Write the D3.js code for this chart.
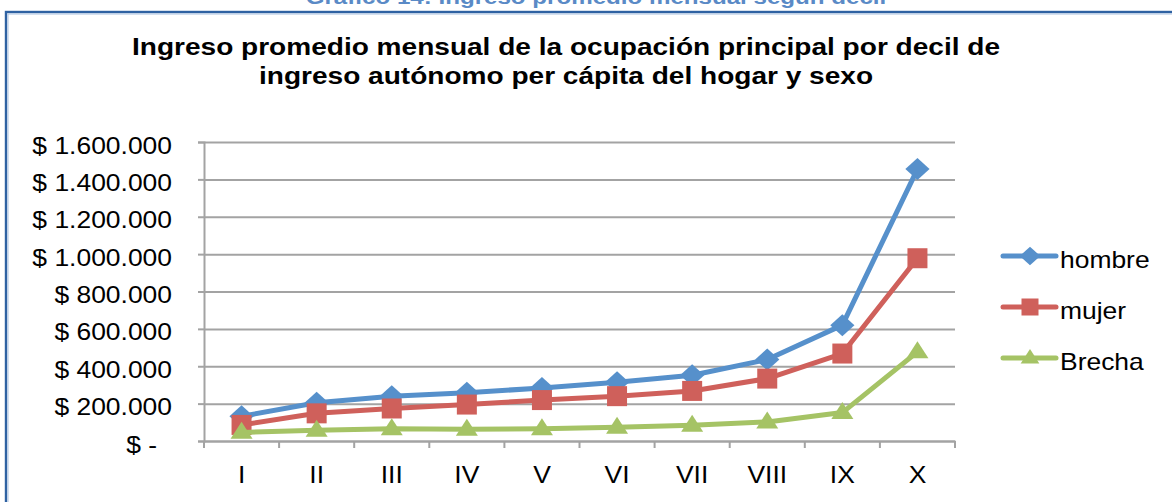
<!DOCTYPE html>
<html>
<head>
<meta charset="utf-8">
<script src="https://cdn.jsdelivr.net/npm/d3@7"></script>
<style>
  html, body { margin: 0; padding: 0; background: #fff; }
  svg { display: block; font-family: Arial, "Liberation Sans", sans-serif; }
</style>
</head>
<body>
<svg id="chart" width="1172" height="502"></svg>
<script>
// ---- data ----
const categories = ["I", "II", "III", "IV", "V", "VI", "VII", "VIII", "IX", "X"];
const hombre = [132000, 205000, 240000, 258000, 284000, 314000, 352000, 436000, 620000, 1455000];
const mujer  = [ 86000, 148000, 174000, 195000, 219000, 240000, 268000, 334000, 468000,  978000];
const brecha = [ 46000,  57000,  66000,  63000,  65000,  74000,  84000, 102000, 152000,  477000];
const yTicks = [0, 200000, 400000, 600000, 800000, 1000000, 1200000, 1400000, 1600000];
const seriesNames = ["hombre", "mujer", "Brecha"];
const headerText = "Gráfico 14: Ingreso promedio mensual según decil";
const titleLines = ["Ingreso promedio mensual de la ocupación principal por decil de",
                    "ingreso autónomo per cápita del hogar y sexo"];

// ---- setup ----
const SX = 1.15; // horizontal stretch of the original picture
const colors = ["#5690cb", "#cf605b", "#a5c365"];
const svg = d3.select("#chart");

// outer frame
svg.append("rect").attr("x", 6).attr("y", 12).attr("width", 1200).attr("height", 520)
  .attr("fill", "none").attr("stroke", "#2f62a2").attr("stroke-width", 2.4);
svg.append("rect").attr("x", 8).attr("y", 14).attr("width", 1200).attr("height", 520)
  .attr("fill", "none").attr("stroke", "#a9c1e0").attr("stroke-width", 1);

// header (cut off at top, as in the original)
svg.append("text").attr("transform", `translate(596,4) scale(${SX},1)`)
  .attr("text-anchor", "middle").attr("font-size", 21).attr("font-weight", "bold")
  .attr("fill", "#5a8ac6").text(headerText);

// title
titleLines.forEach((t, i) => {
  svg.append("text").attr("transform", `translate(566,${55 + i * 29}) scale(${SX},1)`)
    .attr("text-anchor", "middle").attr("font-size", 24.4).attr("font-weight", "bold")
    .attr("fill", "#000").text(t);
});

const x = d3.scaleBand().domain(categories).range([204, 955]);
const y = d3.scaleLinear().domain([0, 1600000]).range([441, 142]);

const fmt = d => d === 0 ? "$ -" : "$ " + d3.format(",")(d).replace(/,/g, ".");

// gridlines
svg.append("g").attr("transform", "translate(204,0)")
  .call(d3.axisLeft(y).tickValues(yTicks).tickSize(-751).tickFormat(""))
  .call(g => g.select(".domain").remove())
  .call(g => g.selectAll("line").attr("stroke", "#a3a3a3").attr("stroke-width", 2));

// y axis
svg.append("g").attr("transform", "translate(204,0)")
  .call(d3.axisLeft(y).tickValues(yTicks).tickSize(6).tickFormat(fmt))
  .call(g => g.select(".domain").attr("stroke", "#a3a3a3").attr("stroke-width", 2))
  .call(g => g.selectAll("line").attr("stroke", "#a3a3a3").attr("stroke-width", 2))
  .call(g => g.selectAll("text")
    .attr("font-size", 23).attr("font-family", "Arial, 'Liberation Sans', sans-serif")
    .attr("fill", "#000").attr("dy", "0.48em")
    .attr("x", d => d === 0 ? -47 / SX : -32 / SX)
    .attr("transform", `scale(${SX},1)`));

// x axis
const xBounds = categories.map(c => x(c)).concat([955]);
svg.append("g").attr("transform", "translate(0,441)")
  .call(d3.axisBottom(x).tickSize(0).tickFormat(d => d))
  .call(g => g.select(".domain").attr("stroke", "#a3a3a3").attr("stroke-width", 2))
  .call(g => g.selectAll("text")
    .attr("font-size", 23).attr("font-family", "Arial, 'Liberation Sans', sans-serif")
    .attr("fill", "#000").attr("y", 42).attr("dy", 0)
    .attr("transform", `scale(${SX},1)`)
    .attr("x", 0));
svg.append("g").selectAll("line").data(xBounds).join("line")
  .attr("x1", d => d).attr("x2", d => d).attr("y1", 441).attr("y2", 448)
  .attr("stroke", "#a3a3a3").attr("stroke-width", 2);

// series
const series = [hombre, mujer, brecha];
const cx = c => x(c) + x.bandwidth() / 2;
const line = d3.line().x((d, i) => cx(categories[i])).y(d => y(d));

function marker(sel, k, size) {
  if (k === 0) {
    const s = size * 0.55;
    sel.append("path").attr("d", `M0,${-s} L${s * 1.1},0 L0,${s} L${-s * 1.1},0 Z`);
  } else if (k === 1) {
    const s = size / 2;
    sel.append("rect").attr("x", -s).attr("y", -s).attr("width", 2 * s).attr("height", 2 * s);
  } else {
    const w = size * 0.55, h = size * 0.85;
    sel.append("path").attr("d", `M0,${-h * 0.62} L${w},${h * 0.38} L${-w},${h * 0.38} Z`);
  }
}

series.forEach((vals, k) => {
  const g = svg.append("g").attr("fill", colors[k]);
  g.append("path").datum(vals).attr("d", line).attr("fill", "none")
    .attr("stroke", colors[k]).attr("stroke-width", 5).attr("stroke-linejoin", "round");
  vals.forEach((v, i) => {
    const m = g.append("g").attr("transform", `translate(${cx(categories[i])},${y(v)})`);
    marker(m, k, 20);
  });
});

// legend
seriesNames.forEach((name, k) => {
  const ly = 256 + k * 51;
  const g = svg.append("g").attr("fill", colors[k]);
  g.append("line").attr("x1", 1003).attr("x2", 1056).attr("y1", ly).attr("y2", ly)
    .attr("stroke", colors[k]).attr("stroke-width", 5).attr("stroke-linecap", "round");
  const m = g.append("g").attr("transform", `translate(1030,${ly})`);
  marker(m, k, 17);
  svg.append("text").attr("transform", `translate(1060,${ly + 12}) scale(${SX},1)`)
    .attr("font-size", 23).attr("fill", "#000").text(name);
});
</script>
</body>
</html>
